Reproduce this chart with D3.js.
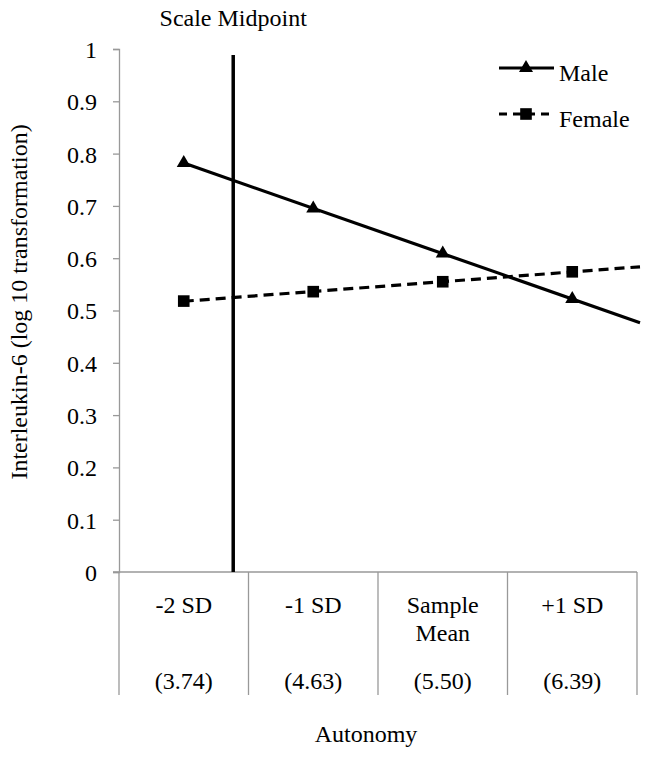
<!DOCTYPE html>
<html><head><meta charset="utf-8">
<script src="https://cdn.jsdelivr.net/npm/d3@7"></script>
<style>
body{margin:0;background:#fff;}
svg text{font-family:"Liberation Serif","Times New Roman","DejaVu Serif",serif;fill:#000;}
</style></head>
<body><svg id="chart" width="649" height="757"></svg>
<script>
const categories = ["-2 SD", "-1 SD", "Sample Mean", "+1 SD"];
const categoryLines = [["-2 SD"], ["-1 SD"], ["Sample", "Mean"], ["+1 SD"]];
const autonomyValues = ["(3.74)", "(4.63)", "(5.50)", "(6.39)"];
const autonomyNumeric = [3.74, 4.63, 5.50, 6.39];
const maleValues = [0.782, 0.695, 0.609, 0.522];
const femaleValues = [0.518, 0.536, 0.555, 0.574];
const yTicks = [0, 0.1, 0.2, 0.3, 0.4, 0.5, 0.6, 0.7, 0.8, 0.9, 1];
const scaleMidpoint = 4.08;
const seriesNames = ["Male", "Female"];

const FONT = "'Liberation Serif','Times New Roman','DejaVu Serif',serif";
const svg = d3.select("#chart");
const m = {left:119, right:637, top:49, bottom:572};
const FS = 24;

const x = d3.scaleBand().domain(categories).range([m.left, m.right]).padding(0);
const y = d3.scaleLinear().domain([0, 1]).range([m.bottom, m.top]);
const cx = c => x(c) + x.bandwidth()/2;

function txt(sel){ return sel.attr("font-family", FONT).attr("font-size", FS).attr("fill", "#000"); }

// y axis
const yAxis = d3.axisLeft(y).tickValues(yTicks).tickSize(6).tickPadding(16)
  .tickFormat(d => d === 0 ? "0" : d === 1 ? "1" : d3.format(".1f")(d));
const gy = svg.append("g").attr("transform", `translate(${m.left},0)`).call(yAxis);
gy.attr("font-family", FONT).attr("font-size", FS);
gy.select(".domain").attr("stroke", "#999").attr("stroke-width", 1.3);
gy.selectAll(".tick line").attr("stroke", "#999").attr("stroke-width", 1.3);
gy.selectAll(".tick text").attr("font-family", FONT).attr("font-size", FS).attr("fill", "#111").attr("dy", "0.35em");

// x axis line
svg.append("line").attr("x1", m.left - 6).attr("x2", m.right)
  .attr("y1", y(0)).attr("y2", y(0)).attr("stroke", "#999").attr("stroke-width", 1.3);

// table dividers
const bounds = categories.map(c => x(c)).concat([x(categories[categories.length-1]) + x.bandwidth()]);
svg.selectAll("line.div").data(bounds).enter().append("line")
  .attr("x1", d => d).attr("x2", d => d).attr("y1", y(0)).attr("y2", 695)
  .attr("stroke", "#999").attr("stroke-width", 1.3);

// category labels
categories.forEach((c, i) => {
  const t = txt(svg.append("text")).attr("x", cx(c)).attr("y", 613).attr("text-anchor", "middle");
  categoryLines[i].forEach((ln, j) => {
    t.append("tspan").attr("x", cx(c)).attr("dy", j === 0 ? 0 : 28).text(ln);
  });
  txt(svg.append("text")).attr("x", cx(c)).attr("y", 689).attr("text-anchor", "middle")
    .text(autonomyValues[i]);
});

// axis titles
txt(svg.append("text")).attr("x", 366).attr("y", 742).attr("text-anchor", "middle").text("Autonomy");
txt(svg.append("text")).attr("transform", "translate(27,302) rotate(-90)")
  .attr("text-anchor", "middle").text("Interleukin-6 (log 10 transformation)");

// scale midpoint line
const xa = d3.scaleLinear().domain([autonomyNumeric[0], autonomyNumeric[1]])
  .range([cx(categories[0]), cx(categories[1])]);
svg.append("line").attr("x1", xa(scaleMidpoint)).attr("x2", xa(scaleMidpoint))
  .attr("y1", 55).attr("y2", y(0)).attr("stroke", "#000").attr("stroke-width", 3.5);
txt(svg.append("text")).attr("x", xa(scaleMidpoint)).attr("y", 26).attr("text-anchor", "middle")
  .text("Scale Midpoint");

// trend lines: linear fit of each series, from first point to right plot edge
function fit(vals){
  const xs = vals.map((_, i) => i);
  const mx = d3.mean(xs), my = d3.mean(vals);
  const b = d3.sum(xs.map((xi, i) => (xi-mx)*(vals[i]-my))) / d3.sum(xs.map(xi => (xi-mx)**2));
  return i => my + b*(i - mx);
}
const idxToX = d3.scaleLinear().domain([0, 1]).range([cx(categories[0]), cx(categories[1])]);
const series = [
  {name: seriesNames[0], vals: maleValues, dash: null, marker: d3.symbolTriangle, size: 85},
  {name: seriesNames[1], vals: femaleValues, dash: "10,6", marker: d3.symbolSquare, size: 135}
];
series.forEach(s => {
  const f = fit(s.vals);
  const endIdx = idxToX.invert(m.right + 3);
  const pts = [[0, f(0)], [endIdx, f(endIdx)]];
  svg.append("path").attr("d", d3.line().x(d => idxToX(d[0])).y(d => y(d[1]))(pts))
    .attr("fill", "none").attr("stroke", "#000").attr("stroke-width", 3.2)
    .attr("stroke-dasharray", s.dash);
  svg.selectAll(null).data(s.vals).enter().append("path")
    .attr("d", d3.symbol().type(s.marker).size(s.size))
    .attr("transform", (d, i) => `translate(${cx(categories[i])},${y(d)})`)
    .attr("fill", "#000");
});

// legend
series.forEach((s, i) => {
  const ly = 68 + i*46;
  svg.append("line").attr("x1", 499).attr("x2", 554).attr("y1", ly).attr("y2", ly)
    .attr("stroke", "#000").attr("stroke-width", 3.2).attr("stroke-dasharray", s.dash ? "8,6" : null);
  svg.append("path").attr("d", d3.symbol().type(s.marker).size(s.size))
    .attr("transform", `translate(526,${ly})`).attr("fill", "#000");
  txt(svg.append("text")).attr("x", 559).attr("y", ly + 13).text(s.name);
});
</script></body></html>
